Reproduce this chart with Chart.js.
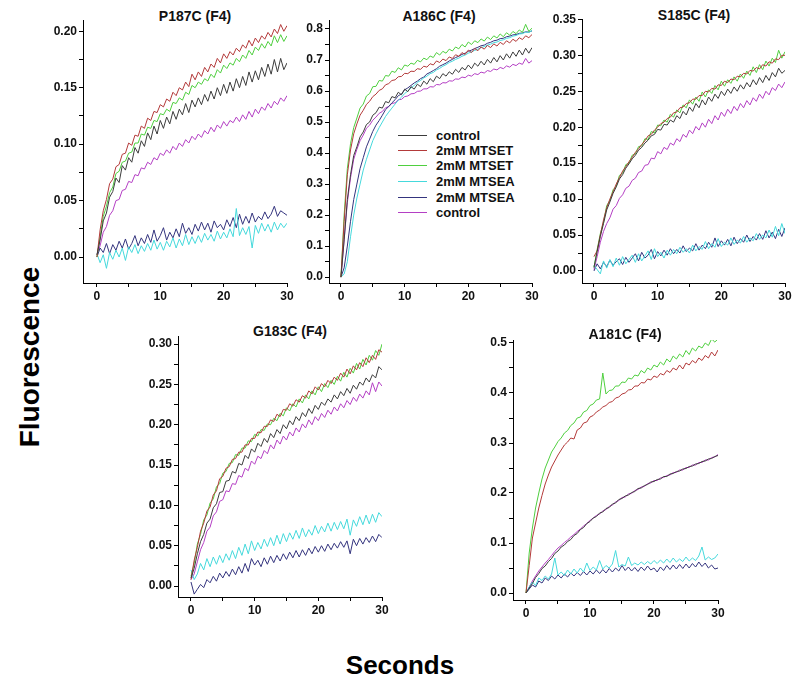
<!DOCTYPE html>
<html>
<head>
<meta charset="utf-8">
<script src="https://cdn.jsdelivr.net/npm/chart.js@4"></script>
<style>
body { margin: 0; background: #fff; font-family: Arial, "Liberation Sans", sans-serif; }
#wrap { position: relative; width: 800px; height: 689px; overflow: hidden; background: #fff; }
#wrap canvas { position: absolute; }
.ptitle { position: absolute; font-weight: bold; font-size: 14px; color: #111; transform: translate(-50%, -50%); white-space: nowrap; }
#ylab { position: absolute; left: 30px; top: 357px; font-weight: bold; font-size: 28px; color: #000; transform: translate(-50%, -50%) rotate(-90deg); white-space: nowrap; }
#xlab { position: absolute; left: 400px; top: 665px; font-weight: bold; font-size: 26px; color: #000; transform: translate(-50%, -50%); white-space: nowrap; }
#legend { position: absolute; left: 398px; top: 0; }
#legend .row { position: absolute; left: 0; display: flex; align-items: center; height: 17px; font-weight: bold; font-size: 13px; color: #111; white-space: nowrap; }
#legend .sw { width: 29px; height: 1px; margin-right: 9px; }
</style>
</head>
<body>
<div id="wrap">
	<div id="ylab">Fluorescence</div>
	<div id="xlab">Seconds</div>
	<div id="legend"></div>
</div>
<script>
// time axis (seconds)
const time = [0,0.5,1,1.5,2,2.5,3,3.5,4,4.5,5,
	5.5,6,6.5,7,7.5,8,8.5,9,9.5,10,
	10.5,11,11.5,12,12.5,13,13.5,14,14.5,15,
	15.5,16,16.5,17,17.5,18,18.5,19,19.5,20,
	20.5,21,21.5,22,22.5,23,23.5,24,24.5,25,
	25.5,26,26.5,27,27.5,28,28.5,29,29.5,30];

const seriesLabels = ["control", "2mM MTSET", "2mM MTSET", "2mM MTSEA", "2mM MTSEA", "control"];
const seriesColors = ["#3c3c3c", "#b33a3a", "#4fcf3f", "#45d9dc", "#34347e", "#b43fc4"];
const panelTitles = ["P187C (F4)", "A186C (F4)", "S185C (F4)", "G183C (F4)", "A181C (F4)"];

// --- P187C ---
const p187c_control = [0.002,0.015,0.032,0.039,0.053,0.058,0.070,0.066,0.081,0.077,0.088,
	0.084,0.097,0.092,0.103,0.098,0.110,0.104,0.116,0.109,0.121,
	0.114,0.124,0.118,0.129,0.122,0.131,0.126,0.136,0.128,0.139,
	0.133,0.141,0.135,0.144,0.138,0.147,0.140,0.150,0.143,0.153,
	0.145,0.155,0.147,0.158,0.150,0.160,0.152,0.164,0.155,0.165,
	0.157,0.168,0.160,0.171,0.162,0.175,0.164,0.176,0.166,0.172];
const p187c_mtset1 = [0.000,0.024,0.041,0.051,0.065,0.069,0.080,0.082,0.091,0.092,0.101,
	0.099,0.108,0.107,0.116,0.114,0.123,0.121,0.129,0.128,0.135,
	0.133,0.140,0.138,0.146,0.143,0.150,0.148,0.155,0.151,0.162,
	0.157,0.164,0.160,0.168,0.164,0.171,0.168,0.176,0.172,0.180,
	0.176,0.182,0.179,0.185,0.182,0.188,0.185,0.192,0.187,0.194,
	0.190,0.196,0.193,0.199,0.195,0.202,0.198,0.206,0.200,0.205];
const p187c_mtset2 = [0.000,0.018,0.036,0.045,0.057,0.062,0.074,0.076,0.084,0.085,0.092,
	0.093,0.101,0.101,0.109,0.108,0.115,0.114,0.121,0.120,0.127,
	0.126,0.131,0.129,0.137,0.136,0.141,0.139,0.146,0.144,0.152,
	0.150,0.155,0.153,0.158,0.156,0.162,0.159,0.166,0.163,0.170,
	0.167,0.172,0.170,0.176,0.173,0.179,0.176,0.183,0.179,0.186,
	0.183,0.189,0.185,0.191,0.187,0.196,0.190,0.197,0.191,0.196];
const p187c_mtsea1 = [0.003,-0.005,0.002,-0.010,0.004,-0.002,0.006,0.000,0.008,-0.003,0.009,
	0.004,0.011,0.003,0.010,0.005,0.012,0.006,0.015,0.007,0.013,
	0.006,0.014,0.009,0.017,0.008,0.016,0.010,0.020,0.011,0.018,
	0.012,0.019,0.013,0.021,0.015,0.020,0.014,0.023,0.016,0.022,
	0.017,0.025,0.018,0.043,0.019,0.026,0.020,0.027,0.008,0.028,
	0.021,0.030,0.023,0.029,0.022,0.031,0.024,0.030,0.026,0.030];
const p187c_mtsea2 = [0.000,0.008,0.004,0.012,0.003,0.011,0.006,0.014,0.008,0.016,0.007,
	0.012,0.019,0.010,0.017,0.012,0.020,0.013,0.024,0.014,0.019,
	0.026,0.015,0.022,0.017,0.025,0.018,0.030,0.021,0.026,0.020,
	0.029,0.023,0.031,0.024,0.030,0.022,0.032,0.026,0.029,0.024,
	0.033,0.027,0.035,0.026,0.038,0.029,0.036,0.030,0.039,0.031,
	0.036,0.033,0.040,0.034,0.038,0.045,0.036,0.041,0.039,0.037];
const p187c_control2 = [0.002,0.010,0.022,0.027,0.037,0.041,0.050,0.051,0.059,0.060,0.067,
	0.066,0.073,0.072,0.079,0.078,0.084,0.082,0.088,0.086,0.092,
	0.090,0.095,0.092,0.098,0.095,0.101,0.098,0.104,0.101,0.107,
	0.104,0.109,0.106,0.112,0.109,0.115,0.111,0.117,0.114,0.120,
	0.116,0.121,0.119,0.124,0.120,0.126,0.122,0.129,0.124,0.131,
	0.127,0.133,0.130,0.136,0.132,0.138,0.135,0.141,0.138,0.143];

// --- A186C ---
const a186c_control = [0.000,0.120,0.250,0.330,0.392,0.420,0.452,0.468,0.492,0.500,0.522,
	0.530,0.548,0.545,0.566,0.562,0.582,0.578,0.596,0.588,0.606,
	0.598,0.614,0.606,0.622,0.614,0.632,0.622,0.640,0.630,0.648,
	0.640,0.656,0.648,0.662,0.654,0.670,0.660,0.676,0.668,0.684,
	0.672,0.690,0.680,0.696,0.684,0.702,0.690,0.708,0.694,0.714,
	0.700,0.720,0.706,0.726,0.712,0.732,0.716,0.738,0.722,0.740];
const a186c_mtset1 = [0.000,0.180,0.330,0.410,0.462,0.494,0.522,0.538,0.557,0.567,0.582,
	0.590,0.602,0.607,0.620,0.624,0.634,0.636,0.646,0.647,0.657,
	0.656,0.664,0.663,0.672,0.670,0.680,0.677,0.688,0.684,0.697,
	0.692,0.703,0.698,0.710,0.705,0.717,0.712,0.724,0.718,0.732,
	0.724,0.737,0.730,0.742,0.735,0.747,0.740,0.752,0.745,0.757,
	0.750,0.762,0.755,0.767,0.760,0.772,0.766,0.778,0.772,0.782];
const a186c_mtset2 = [0.000,0.200,0.350,0.430,0.482,0.513,0.545,0.558,0.584,0.592,0.614,
	0.615,0.634,0.632,0.650,0.648,0.664,0.660,0.675,0.668,0.684,
	0.680,0.690,0.686,0.699,0.694,0.706,0.701,0.713,0.708,0.724,
	0.716,0.728,0.722,0.735,0.729,0.742,0.736,0.750,0.742,0.758,
	0.750,0.762,0.756,0.768,0.761,0.774,0.766,0.778,0.771,0.784,
	0.775,0.788,0.780,0.792,0.785,0.797,0.789,0.815,0.792,0.803];
const a186c_mtsea1 = [0.000,0.010,0.050,0.130,0.200,0.255,0.300,0.345,0.380,0.410,0.440,
	0.462,0.482,0.500,0.518,0.532,0.545,0.558,0.570,0.580,0.592,
	0.600,0.610,0.618,0.628,0.634,0.642,0.648,0.656,0.660,0.668,
	0.673,0.680,0.685,0.692,0.696,0.702,0.706,0.712,0.716,0.722,
	0.726,0.731,0.735,0.740,0.743,0.748,0.751,0.756,0.758,0.763,
	0.765,0.770,0.772,0.777,0.779,0.784,0.785,0.790,0.789,0.795];
const a186c_mtsea2 = [0.000,0.030,0.100,0.180,0.250,0.300,0.350,0.385,0.420,0.445,0.470,
	0.490,0.505,0.522,0.540,0.550,0.562,0.572,0.585,0.590,0.604,
	0.610,0.618,0.626,0.632,0.640,0.645,0.655,0.660,0.666,0.672,
	0.680,0.685,0.690,0.697,0.702,0.708,0.712,0.718,0.722,0.728,
	0.732,0.737,0.741,0.746,0.748,0.754,0.757,0.762,0.764,0.769,
	0.770,0.775,0.777,0.781,0.782,0.786,0.787,0.791,0.790,0.794];
const a186c_control2 = [0.000,0.120,0.240,0.320,0.380,0.412,0.440,0.458,0.480,0.490,0.506,
	0.516,0.528,0.534,0.546,0.550,0.560,0.562,0.572,0.573,0.582,
	0.584,0.591,0.592,0.599,0.600,0.607,0.607,0.614,0.613,0.621,
	0.620,0.627,0.626,0.633,0.632,0.639,0.638,0.645,0.643,0.651,
	0.648,0.656,0.653,0.661,0.658,0.666,0.663,0.671,0.668,0.676,
	0.672,0.681,0.677,0.686,0.682,0.690,0.686,0.705,0.690,0.698];

// --- S185C ---
const s185c_control = [0.005,0.027,0.048,0.066,0.085,0.096,0.108,0.117,0.128,0.134,0.143,
	0.149,0.156,0.161,0.168,0.172,0.178,0.182,0.188,0.190,0.197,
	0.196,0.204,0.203,0.210,0.207,0.216,0.212,0.222,0.217,0.228,
	0.222,0.233,0.227,0.238,0.231,0.242,0.236,0.246,0.240,0.250,
	0.244,0.253,0.247,0.256,0.250,0.259,0.253,0.262,0.256,0.266,
	0.259,0.269,0.262,0.272,0.265,0.276,0.270,0.282,0.275,0.279];
const s185c_mtset1 = [0.020,0.028,0.050,0.071,0.088,0.100,0.110,0.121,0.130,0.139,0.145,
	0.152,0.158,0.165,0.170,0.176,0.181,0.188,0.190,0.196,0.200,
	0.205,0.207,0.212,0.214,0.220,0.221,0.227,0.228,0.233,0.234,
	0.239,0.239,0.244,0.244,0.250,0.249,0.254,0.253,0.259,0.258,
	0.264,0.262,0.267,0.266,0.271,0.270,0.275,0.274,0.279,0.278,
	0.283,0.281,0.287,0.285,0.291,0.289,0.295,0.294,0.300,0.300];
const s185c_mtset2 = [0.005,0.030,0.052,0.068,0.091,0.098,0.113,0.118,0.133,0.136,0.148,
	0.150,0.161,0.163,0.173,0.174,0.184,0.183,0.194,0.192,0.203,
	0.202,0.210,0.207,0.218,0.214,0.224,0.220,0.231,0.227,0.238,
	0.232,0.242,0.236,0.249,0.242,0.252,0.247,0.258,0.252,0.264,
	0.257,0.266,0.261,0.270,0.264,0.274,0.268,0.278,0.272,0.284,
	0.276,0.287,0.280,0.292,0.285,0.296,0.290,0.307,0.296,0.305];
const s185c_mtsea1 = [0.008,0.002,-0.004,0.014,0.004,0.016,0.006,0.018,0.008,0.020,0.010,
	0.016,0.022,0.012,0.024,0.014,0.021,0.028,0.016,0.031,0.020,
	0.026,0.018,0.029,0.022,0.030,0.024,0.033,0.026,0.031,0.025,
	0.036,0.028,0.034,0.030,0.041,0.031,0.038,0.033,0.045,0.034,
	0.040,0.036,0.046,0.037,0.043,0.039,0.048,0.040,0.046,0.042,
	0.052,0.044,0.050,0.046,0.057,0.047,0.062,0.049,0.066,0.052];
const s185c_mtsea2 = [0.000,0.010,0.003,0.012,0.006,0.015,0.008,0.013,0.017,0.009,0.019,
	0.012,0.018,0.024,0.014,0.026,0.018,0.022,0.030,0.017,0.027,
	0.021,0.029,0.022,0.031,0.024,0.030,0.025,0.035,0.027,0.032,
	0.028,0.038,0.029,0.036,0.031,0.040,0.033,0.046,0.034,0.042,
	0.036,0.044,0.035,0.047,0.038,0.045,0.040,0.050,0.041,0.048,
	0.043,0.052,0.044,0.056,0.046,0.054,0.045,0.058,0.048,0.060];
const s185c_control2 = [0.002,0.020,0.040,0.055,0.066,0.074,0.086,0.091,0.101,0.106,0.115,
	0.118,0.126,0.129,0.137,0.139,0.147,0.148,0.157,0.156,0.166,
	0.163,0.172,0.169,0.178,0.175,0.184,0.180,0.190,0.186,0.196,
	0.191,0.201,0.196,0.206,0.200,0.211,0.205,0.216,0.210,0.221,
	0.215,0.225,0.219,0.229,0.223,0.233,0.227,0.237,0.231,0.241,
	0.236,0.246,0.240,0.250,0.245,0.255,0.251,0.260,0.255,0.263];

// --- G183C ---
const g183c_control = [0.010,0.022,0.040,0.055,0.064,0.078,0.083,0.097,0.102,0.116,0.117,
	0.130,0.131,0.142,0.140,0.152,0.150,0.162,0.158,0.170,0.166,
	0.177,0.173,0.183,0.178,0.189,0.184,0.194,0.189,0.200,0.195,
	0.205,0.200,0.210,0.205,0.215,0.210,0.220,0.214,0.224,0.219,
	0.228,0.224,0.232,0.228,0.237,0.232,0.241,0.236,0.245,0.239,
	0.249,0.244,0.253,0.249,0.258,0.253,0.262,0.258,0.272,0.268];
const g183c_mtset1 = [0.008,0.032,0.048,0.068,0.078,0.093,0.098,0.113,0.118,0.133,0.136,
	0.146,0.148,0.157,0.158,0.166,0.166,0.175,0.175,0.183,0.183,
	0.191,0.190,0.198,0.198,0.206,0.204,0.213,0.210,0.219,0.218,
	0.226,0.223,0.231,0.228,0.236,0.233,0.242,0.238,0.247,0.243,
	0.251,0.247,0.255,0.251,0.259,0.255,0.264,0.259,0.269,0.263,
	0.273,0.268,0.277,0.272,0.283,0.277,0.286,0.281,0.293,0.290];
const g183c_mtset2 = [0.012,0.028,0.052,0.064,0.082,0.088,0.103,0.108,0.123,0.127,0.140,
	0.142,0.152,0.153,0.163,0.162,0.171,0.171,0.180,0.179,0.188,
	0.186,0.194,0.193,0.201,0.200,0.208,0.205,0.214,0.211,0.221,
	0.217,0.226,0.222,0.232,0.227,0.237,0.232,0.242,0.237,0.247,
	0.241,0.251,0.246,0.255,0.250,0.260,0.254,0.265,0.259,0.270,
	0.264,0.276,0.269,0.281,0.274,0.286,0.280,0.292,0.286,0.300];
const g183c_mtsea1 = [0.020,0.008,0.015,0.028,0.020,0.034,0.024,0.036,0.027,0.038,0.029,
	0.040,0.032,0.044,0.034,0.048,0.038,0.052,0.040,0.056,0.044,
	0.054,0.046,0.058,0.049,0.060,0.050,0.063,0.052,0.065,0.055,
	0.066,0.058,0.069,0.059,0.072,0.061,0.070,0.063,0.075,0.065,
	0.074,0.067,0.078,0.068,0.079,0.070,0.080,0.071,0.083,0.063,
	0.082,0.074,0.086,0.076,0.088,0.077,0.089,0.079,0.091,0.086];
const g183c_mtsea2 = [0.005,-0.010,-0.004,0.002,-0.002,0.008,0.004,0.012,0.006,0.016,0.010,
	0.018,0.012,0.021,0.014,0.024,0.016,0.028,0.018,0.034,0.026,
	0.032,0.024,0.035,0.027,0.037,0.029,0.038,0.031,0.040,0.033,
	0.042,0.035,0.044,0.036,0.045,0.038,0.047,0.040,0.049,0.042,
	0.050,0.043,0.052,0.045,0.053,0.047,0.055,0.048,0.056,0.040,
	0.058,0.050,0.059,0.052,0.060,0.054,0.062,0.055,0.064,0.060];
const g183c_control2 = [0.008,0.015,0.030,0.045,0.054,0.068,0.073,0.087,0.092,0.105,0.107,
	0.118,0.117,0.127,0.126,0.137,0.135,0.146,0.143,0.155,0.151,
	0.161,0.158,0.168,0.164,0.175,0.170,0.181,0.176,0.186,0.181,
	0.191,0.186,0.196,0.191,0.201,0.196,0.206,0.200,0.210,0.205,
	0.214,0.209,0.218,0.213,0.222,0.217,0.226,0.221,0.230,0.225,
	0.234,0.229,0.238,0.233,0.242,0.237,0.252,0.241,0.253,0.248];

// --- A181C ---
const a181c_control = [0.000,0.010,0.019,0.031,0.039,0.049,0.054,0.063,0.069,0.079,0.084,
	0.092,0.096,0.103,0.107,0.115,0.119,0.127,0.131,0.139,0.143,
	0.150,0.153,0.160,0.162,0.169,0.171,0.178,0.180,0.187,0.189,
	0.194,0.196,0.201,0.203,0.209,0.210,0.215,0.217,0.222,0.223,
	0.227,0.228,0.233,0.233,0.238,0.239,0.243,0.244,0.248,0.249,
	0.253,0.254,0.258,0.259,0.263,0.264,0.268,0.269,0.273,0.275];
const a181c_mtset1 = [0.000,0.055,0.110,0.140,0.170,0.195,0.218,0.236,0.252,0.264,0.276,
	0.286,0.296,0.302,0.310,0.308,0.326,0.330,0.340,0.342,0.352,
	0.355,0.362,0.366,0.372,0.375,0.381,0.383,0.390,0.392,0.398,
	0.400,0.406,0.407,0.414,0.414,0.421,0.420,0.428,0.426,0.434,
	0.431,0.439,0.436,0.445,0.441,0.450,0.446,0.456,0.448,0.460,
	0.456,0.465,0.460,0.470,0.465,0.475,0.470,0.482,0.474,0.486];
const a181c_mtset2 = [0.000,0.080,0.130,0.170,0.200,0.228,0.250,0.266,0.282,0.292,0.303,
	0.310,0.320,0.325,0.335,0.340,0.350,0.352,0.362,0.365,0.375,
	0.378,0.386,0.388,0.440,0.398,0.405,0.406,0.414,0.414,0.422,
	0.421,0.430,0.428,0.436,0.434,0.445,0.440,0.450,0.446,0.456,
	0.452,0.462,0.456,0.468,0.462,0.474,0.468,0.478,0.472,0.485,
	0.477,0.490,0.484,0.494,0.490,0.500,0.495,0.508,0.502,0.508];
const a181c_mtsea1 = [0.000,0.012,0.022,0.015,0.030,0.025,0.034,0.028,0.038,0.070,0.036,
	0.042,0.035,0.046,0.038,0.048,0.040,0.050,0.042,0.060,0.045,
	0.052,0.046,0.065,0.048,0.055,0.050,0.058,0.085,0.052,0.057,
	0.054,0.072,0.055,0.060,0.056,0.062,0.057,0.063,0.058,0.065,
	0.059,0.066,0.060,0.068,0.061,0.070,0.062,0.068,0.063,0.072,
	0.064,0.070,0.065,0.074,0.092,0.066,0.072,0.067,0.070,0.078];
const a181c_mtsea2 = [0.000,0.008,0.016,0.012,0.024,0.020,0.030,0.025,0.034,0.028,0.036,
	0.030,0.038,0.032,0.040,0.034,0.041,0.035,0.043,0.036,0.044,
	0.038,0.046,0.039,0.047,0.040,0.049,0.042,0.050,0.044,0.055,
	0.045,0.052,0.044,0.051,0.043,0.052,0.045,0.054,0.046,0.050,
	0.042,0.052,0.045,0.055,0.047,0.056,0.048,0.057,0.049,0.058,
	0.050,0.059,0.052,0.062,0.053,0.060,0.050,0.056,0.048,0.050];
const a181c_control2 = [0.000,0.012,0.024,0.034,0.044,0.052,0.060,0.067,0.075,0.083,0.090,
	0.095,0.101,0.106,0.112,0.117,0.123,0.128,0.134,0.139,0.145,
	0.150,0.155,0.158,0.164,0.167,0.173,0.176,0.182,0.185,0.191,
	0.192,0.198,0.199,0.205,0.207,0.212,0.213,0.219,0.220,0.225,
	0.225,0.230,0.231,0.235,0.236,0.241,0.241,0.246,0.246,0.251,
	0.251,0.256,0.256,0.261,0.261,0.266,0.266,0.271,0.272,0.277];

// panel layout: plot box in page pixels + axis ranges
const panels = [
	{title: panelTitles[0], left: 83, right: 287, top: 20, bottom: 283, xMin: -2.2, yMin: -0.023, yMax: 0.21, yStep: 0.05, dec: 2, tx: 195, ty: 16,
		series: [p187c_control, p187c_mtset1, p187c_mtset2, p187c_mtsea1, p187c_mtsea2, p187c_control2]},
	{title: panelTitles[1], left: 329, right: 532, top: 20, bottom: 283, xMin: -1.88, yMin: -0.019, yMax: 0.829, yStep: 0.1, dec: 1, tx: 439, ty: 16,
		series: [a186c_control, a186c_mtset1, a186c_mtset2, a186c_mtsea1, a186c_mtsea2, a186c_control2]},
	{title: panelTitles[2], left: 582, right: 785, top: 19, bottom: 283, xMin: -1.88, yMin: -0.0167, yMax: 0.3505, yStep: 0.05, dec: 2, tx: 694, ty: 15,
		series: [s185c_control, s185c_mtset1, s185c_mtset2, s185c_mtsea1, s185c_mtsea2, s185c_control2]},
	{title: panelTitles[3], left: 178, right: 382, top: 336, bottom: 597, xMin: -2.04, yMin: -0.0136, yMax: 0.31, yStep: 0.05, dec: 2, tx: 290, ty: 331,
		series: [g183c_control, g183c_mtset1, g183c_mtset2, g183c_mtsea1, g183c_mtsea2, g183c_control2]},
	{title: panelTitles[4], left: 513, right: 718, top: 340, bottom: 600, xMin: -2.03, yMin: -0.014, yMax: 0.506, yStep: 0.1, dec: 1, tx: 625, ty: 334,
		series: [a181c_control, a181c_mtset1, a181c_mtset2, a181c_mtsea1, a181c_mtsea2, a181c_control2]}
];

const Y_W = 50, X_H = 25, PAD_T = 25, PAD_R = 15;
const tickFont = {family: "Arial, 'Liberation Sans', sans-serif", size: 12, weight: "bold"};

function isMajor(v, step) {
	const r = v / step;
	return Math.abs(r - Math.round(r)) < 1e-6;
}

function makePanel(p) {
	const wrap = document.getElementById("wrap");

	const title = document.createElement("div");
	title.className = "ptitle";
	title.textContent = p.title;
	title.style.left = p.tx + "px";
	title.style.top = p.ty + "px";
	wrap.appendChild(title);

	const canvas = document.createElement("canvas");
	const w = p.right - p.left + Y_W + PAD_R;
	const h = p.bottom - p.top + PAD_T + X_H;
	canvas.width = w;
	canvas.height = h;
	canvas.style.width = w + "px";
	canvas.style.height = h + "px";
	canvas.style.left = (p.left - Y_W) + "px";
	canvas.style.top = (p.top - PAD_T) + "px";
	wrap.appendChild(canvas);

	const datasets = p.series.map((vals, i) => ({
		label: seriesLabels[i],
		data: time.map((t, k) => ({x: t, y: vals[k]})),
		borderColor: seriesColors[i],
		borderWidth: 1,
		pointRadius: 0,
		tension: 0,
		fill: false
	}));

	new Chart(canvas, {
		type: "line",
		data: {datasets: datasets},
		options: {
			responsive: false,
			animation: false,
			events: [],
			layout: {padding: {top: PAD_T, right: PAD_R, left: 0, bottom: 0}},
			plugins: {legend: {display: false}, tooltip: {enabled: false}},
			scales: {
				x: {
					type: "linear",
					min: p.xMin,
					max: 30,
					afterFit: (s) => { s.height = X_H; },
					border: {display: true, color: "#000", width: 1},
					grid: {display: true, drawOnChartArea: false, drawTicks: true, tickLength: 4, tickColor: "#000"},
					ticks: {
						stepSize: 5,
						includeBounds: false,
						autoSkip: false,
						maxRotation: 0,
						padding: 2,
						color: "#111",
						font: tickFont,
						callback: (v) => isMajor(v, 10) ? String(Math.round(v)) : ""
					}
				},
				y: {
					type: "linear",
					min: p.yMin,
					max: p.yMax,
					afterFit: (s) => { s.width = Y_W; },
					border: {display: true, color: "#000", width: 1},
					grid: {display: true, drawOnChartArea: false, drawTicks: true, tickLength: 4, tickColor: "#000"},
					ticks: {
						stepSize: p.yStep / 2,
						includeBounds: false,
						autoSkip: false,
						padding: 2,
						color: "#111",
						font: tickFont,
						callback: (v) => isMajor(v, p.yStep) ? Number(v).toFixed(p.dec) : ""
					}
				}
			}
		}
	});
}

panels.forEach(makePanel);

// legend inside A186C panel, one row per series
const legendRows = [135, 150, 165, 181, 197, 212];
const legend = document.getElementById("legend");
legend.innerHTML = seriesLabels
	.map((lab, i) => `<div class="row" style="top:${legendRows[i] - 8}px"><span class="sw" style="background:${seriesColors[i]}"></span>${lab}</div>`)
	.join("");
</script>
</body>
</html>
